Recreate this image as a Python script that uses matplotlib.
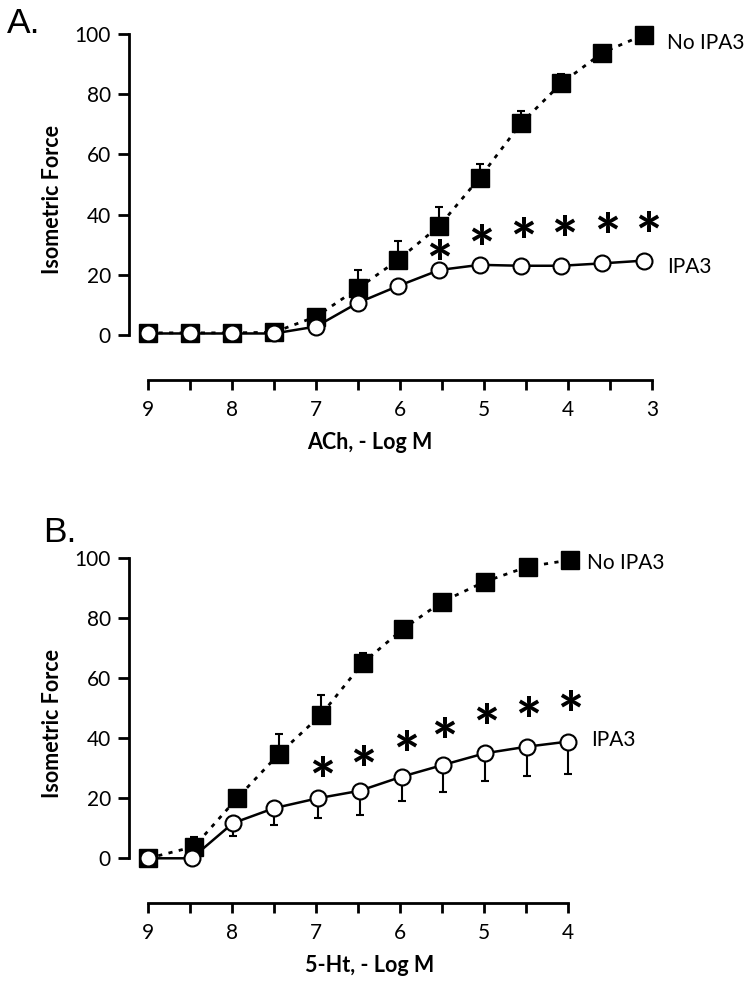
import matplotlib.pyplot as plt

plt.rcParams["font.family"] = ["Lato", "DejaVu Sans"]

# %% dados
# Painel A: ACh
ach_x = [9, 8.5, 8, 7.5, 7, 6.5, 6.02, 5.53, 5.05, 4.56, 4.08, 3.59, 3.1]
ach_ctrl = [0.7, 0.7, 0.7, 0.9, 6.1, 15.5, 25, 36.3, 52.3, 70.3, 83.6, 93.8, 99.7]
ach_ctrl_err = [0, 0, 0, 0, 0, 6.1, 6.3, 6.1, 4.4, 4.1, 3.1, 0, 0]
ach_ipa3 = [0.5, 0.5, 0.5, 0.5, 2.8, 10.7, 16.3, 21.6, 23.3, 23, 23, 23.8, 24.7]
ach_ipa3_err = [0] * 13
ach_star_x = [5.54, 5.04, 4.54, 4.05, 3.54, 3.05]
ach_star_y = [29, 34, 36.3, 37, 38, 38.2]

# Painel B: 5-Ht
ht_x_ctrl = [9, 8.45, 7.94, 7.44, 6.94, 6.44, 5.97, 5.5, 4.99, 4.48, 3.98]
ht_ctrl = [0, 3.9, 20, 34.8, 47.8, 65.2, 76.3, 85.5, 92.2, 97.2, 99.4]
ht_ctrl_err = [0, 3.1, 1.7, 6.6, 6.6, 3.3, 0, 0, 0, 0, 0]
ht_x_ipa3 = [9, 8.48, 7.99, 7.5, 6.98, 6.48, 5.98, 5.49, 4.99, 4.49, 4.0]
ht_ipa3 = [0, 0, 11.7, 16.7, 20, 22.5, 27.2, 31.1, 35, 37.2, 38.9]
ht_ipa3_err = [0, 0, 4.3, 5.6, 6.7, 8.1, 8, 8.9, 9.1, 9.7, 10.8]
ht_star_x = [6.93, 6.44, 5.93, 5.48, 4.97, 4.48, 3.98]
ht_star_y = [31.1, 35, 40, 44.2, 48.9, 51.4, 53.3]

ach_ticks = [9, 8.5, 8, 7.5, 7, 6.5, 6, 5.5, 5, 4.5, 4, 3.5, 3]
ht_ticks = [9, 8.5, 8, 7.5, 7, 6.5, 6, 5.5, 5, 4.5, 4]

# %% figura
fig = plt.figure(figsize=(7.51, 9.84), dpi=100)
ax_a = fig.add_axes([0.1718, 0.6504, 0.7076, 0.3242])
ax_b = fig.add_axes([0.1718, 0.1186, 0.5957, 0.3232])


def draw_panel(ax, x_ctrl, ctrl, ctrl_err, x_ipa3, ipa3, ipa3_err, star_x, star_y,
               ticks, x_right, xlabel, lab_ctrl, lab_ipa3):
    zeros_c = [0] * len(ctrl)
    zeros_i = [0] * len(ipa3)
    ax.errorbar(x_ctrl, ctrl, yerr=[zeros_c, ctrl_err], fmt="none", ecolor="black",
                elinewidth=1.5, capsize=3, capthick=1.5, zorder=2, clip_on=False)
    ax.errorbar(x_ipa3, ipa3, yerr=[ipa3_err, zeros_i], fmt="none", ecolor="black",
                elinewidth=1.5, capsize=3, capthick=1.5, zorder=2, clip_on=False)
    ax.plot(x_ctrl, ctrl, color="black", lw=2, linestyle=(0, (1.5, 2.3)),
            zorder=3, clip_on=False)
    ax.plot(x_ctrl, ctrl, "s", ms=12.5, color="black", zorder=4, clip_on=False)
    ax.plot(x_ipa3, ipa3, "-", color="black", lw=1.8, zorder=3, clip_on=False)
    ax.plot(x_ipa3, ipa3, "o", ms=11.5, mfc="white", mec="black", mew=1.5,
            zorder=5, clip_on=False)
    for sx, sy in zip(star_x, star_y):
        ax.annotate("*", xy=(sx, sy), xytext=(0, -14), textcoords="offset points",
                    ha="center", va="center", fontsize=44, fontweight=900)

    ax.set_xlim(9.226, x_right)
    ax.set_ylim(-3, 103)
    ax.set_xticks(ticks)
    ax.set_xticklabels([f"{t:g}" if t == int(t) else "" for t in ticks])
    ax.set_yticks([0, 20, 40, 60, 80, 100])
    for s in ("top", "right"):
        ax.spines[s].set_visible(False)
    ax.spines["left"].set_bounds(0, 100)
    ax.spines["bottom"].set_bounds(ticks[0], ticks[-1])
    ax.spines["bottom"].set_position(("outward", 26))
    for s in ("left", "bottom"):
        ax.spines[s].set_linewidth(2)
    ax.tick_params(axis="y", width=2, length=8, pad=5, labelsize=15)
    ax.tick_params(axis="x", width=2, length=7.2, pad=7, labelsize=15)

    ax.annotate("Isometric Force", xy=(0, 45), xycoords=ax.get_yaxis_transform(),
                xytext=(-55, 0), textcoords="offset points", rotation=90,
                ha="center", va="center", fontsize=15.5, fontweight="bold")
    ax.annotate(xlabel, xy=(6.36, 0), xycoords=ax.get_xaxis_transform(),
                xytext=(0, -71), textcoords="offset points",
                ha="center", va="center", fontsize=15.5, fontweight="bold")
    ax.text(*lab_ctrl, "No IPA3", ha="left", va="center", fontsize=15)
    ax.text(*lab_ipa3, "IPA3", ha="left", va="center", fontsize=15)


draw_panel(ax_a, ach_x, ach_ctrl, ach_ctrl_err, ach_x, ach_ipa3, ach_ipa3_err,
           ach_star_x, ach_star_y, ach_ticks, 2.9, "ACh, - Log M",
           (2.825, 97.1), (2.825, 22.7))
draw_panel(ax_b, ht_x_ctrl, ht_ctrl, ht_ctrl_err, ht_x_ipa3, ht_ipa3, ht_ipa3_err,
           ht_star_x, ht_star_y, ht_ticks, 3.9, "5-Ht, - Log M",
           (3.777, 98.5), (3.72, 39.4))

fig.text(7 / 751, 1 - 33 / 984, "A.", fontsize=25.5, family="Liberation Sans",
         ha="left", va="baseline")
fig.text(43 / 751, 1 - 541.7 / 984, "B.", fontsize=25.5, family="Liberation Sans",
         ha="left", va="baseline")

fig.savefig("out.png", dpi=100)
